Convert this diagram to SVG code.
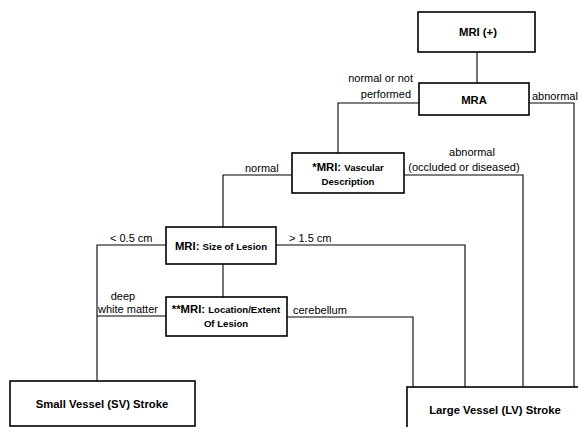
<svg xmlns="http://www.w3.org/2000/svg" width="578" height="427" viewBox="0 0 578 427">
<style>
  .box { fill: #fff; stroke: #000; stroke-width: 1.6; }
  .bt { font-family: "Liberation Sans", Arial, sans-serif; font-weight: bold; font-size: 11.3px; text-anchor: middle; fill: #000; }
  .sm { font-size: 9.6px; }
  .lb { font-family: "Liberation Sans", Arial, sans-serif; font-size: 11px; fill: #000; }
  .c { fill: none; stroke: #000; stroke-width: 1.1; }
</style>
<rect width="578" height="427" fill="#fff"/>
<g id="connectors">
  <line class="c" x1="477" y1="52" x2="477" y2="83"/>
  <polyline class="c" points="419,103 338,103 338,153"/>
  <polyline class="c" points="529,103 574,103 574,387"/>
  <polyline class="c" points="292,175 223,175 223,227"/>
  <polyline class="c" points="404,175 523,175 523,387"/>
  <polyline class="c" points="166,245 97,245 97,381"/>
  <polyline class="c" points="276,245 465,245 465,387"/>
  <line class="c" x1="223" y1="264" x2="223" y2="297"/>
  <line class="c" x1="166" y1="316" x2="97" y2="316"/>
  <polyline class="c" points="287,317 413,317 413,387"/>
  <text class="lb" x="413" y="82" text-anchor="end">normal or not</text>
  <text class="lb" x="411" y="98" text-anchor="end">performed</text>
  <text class="lb" x="532" y="100">abnormal</text>
  <text class="lb" x="472" y="156" text-anchor="middle">abnormal</text>
  <text class="lb" x="464" y="171" text-anchor="middle">(occluded or diseased)</text>
  <text class="lb" x="245" y="172">normal</text>
  <text class="lb" x="110" y="242">&lt; 0.5 cm</text>
  <text class="lb" x="289" y="242">&gt; 1.5 cm</text>
  <text class="lb" x="123" y="300" text-anchor="middle">deep</text>
  <text class="lb" x="98" y="313">white matter</text>
  <text class="lb" x="293" y="314">cerebellum</text>
</g>
<g id="mri-plus">
  <rect class="box" x="418" y="12" width="117" height="40"/>
  <text class="bt" x="478" y="36">MRI (+)</text>
</g>
<g id="mra">
  <rect class="box" x="419" y="83" width="110" height="32"/>
  <text class="bt" x="474" y="104">MRA</text>
</g>
<g id="vascular">
  <rect class="box" x="292" y="153" width="112" height="40"/>
  <text class="bt" x="348" y="171">*MRI: <tspan class="sm">Vascular</tspan></text>
  <text class="bt sm" x="348" y="185">Description</text>
</g>
<g id="size">
  <rect class="box" x="166" y="227" width="110" height="37"/>
  <text class="bt" x="221" y="250">MRI: <tspan class="sm">Size of Lesion</tspan></text>
</g>
<g id="location">
  <rect class="box" x="166" y="297" width="121" height="39"/>
  <text class="bt" x="226" y="313">**MRI: <tspan class="sm">Location/Extent</tspan></text>
  <text class="bt sm" x="226" y="327">Of Lesion</text>
</g>
<g id="sv">
  <rect class="box" x="10" y="381" width="185" height="45"/>
  <text class="bt" x="102" y="408">Small Vessel (SV) Stroke</text>
</g>
<g id="lv">
  <rect class="box" x="407" y="387" width="180" height="50"/>
  <text class="bt" x="495" y="414">Large Vessel (LV) Stroke</text>
</g>
</svg>
